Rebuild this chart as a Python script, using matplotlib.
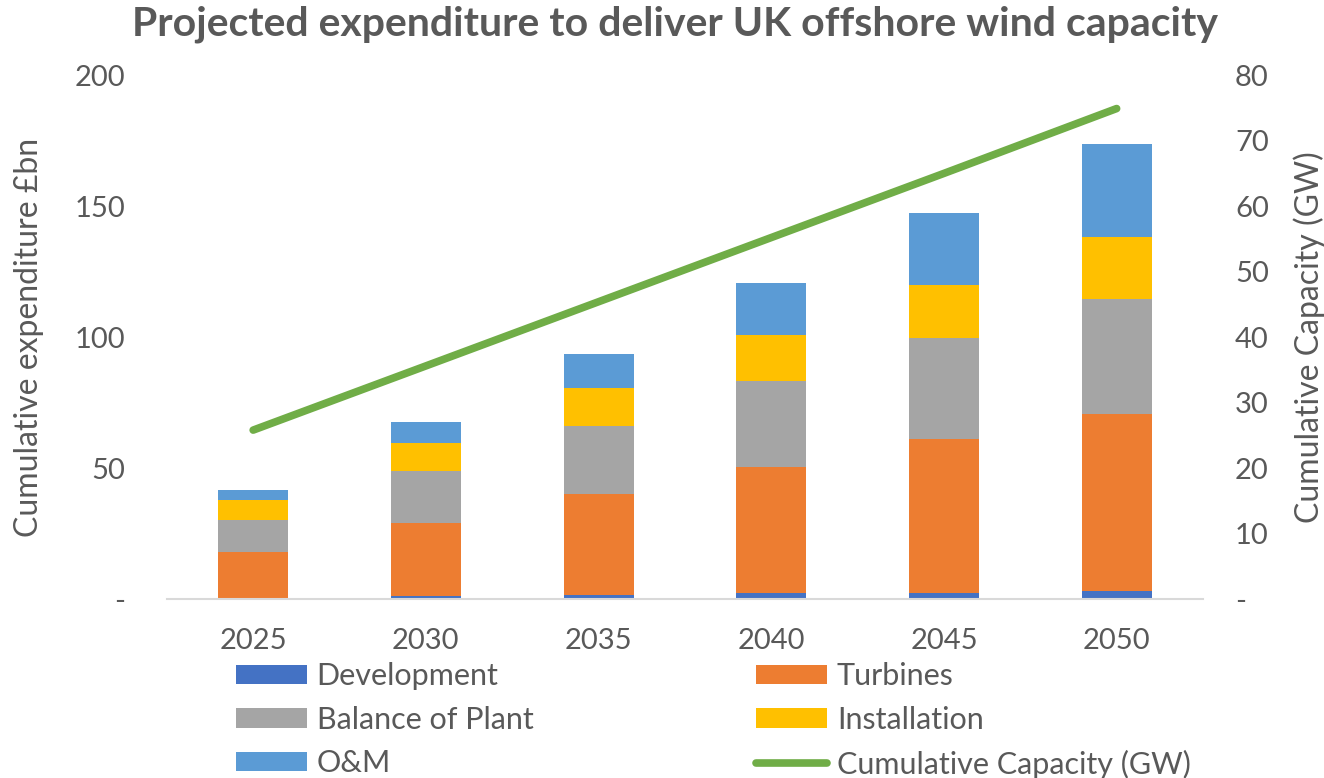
import numpy as np
import matplotlib.pyplot as plt
from matplotlib.patches import Patch
from matplotlib.lines import Line2D

plt.rcParams['font.family'] = ['Lato', 'DejaVu Sans']

years = ['2025', '2030', '2035', '2040', '2045', '2050']

# expenditure by component, £bn (cumulative)
development = [0.5, 1.1, 1.5, 2.2, 2.4, 3.1]
turbines = [17.3, 27.8, 38.6, 48.3, 58.7, 67.4]
balance_of_plant = [12.4, 19.8, 25.9, 32.7, 38.4, 44.0]
installation = [7.6, 11.0, 14.4, 17.6, 20.3, 23.7]
om = [3.8, 8.0, 13.1, 19.7, 27.4, 35.7]

# cumulative capacity, GW
capacity = [25.8, 35.6, 45.4, 55.2, 65.0, 74.9]

series = [
    ('Development', development, '#4472C4'),
    ('Turbines', turbines, '#ED7D31'),
    ('Balance of Plant', balance_of_plant, '#A5A5A5'),
    ('Installation', installation, '#FFC000'),
    ('O&M', om, '#5B9BD5'),
]
line_color = '#70AD47'
text_color = '#595959'

fig = plt.figure(figsize=(13.24, 7.78), dpi=100)
ax = fig.add_axes([0.126, 0.230, 0.7826, 0.6734])
ax2 = ax.twinx()

x = np.arange(len(years))
bottom = np.zeros(len(years))
handles = {}
for name, vals, col in series:
    ax.bar(x, vals, width=0.405, bottom=bottom, color=col, linewidth=0)
    bottom = bottom + np.array(vals)
    handles[name] = Patch(facecolor=col, label=name)

ax2.plot(x, capacity, color=line_color, lw=5.5, solid_capstyle='round')
handles['Cumulative Capacity (GW)'] = Line2D([], [], color=line_color, lw=5.5,
                                             solid_capstyle='round')

ax.set_xlim(-0.5, 5.5)
ax.set_ylim(0, 200)
ax2.set_ylim(0, 80)
ax.set_xticks(x)
ax.set_xticklabels(years)
ax.set_yticks([0, 50, 100, 150, 200])
ax.set_yticklabels(['-', '50', '100', '150', '200'])
ax2.set_yticks(range(0, 81, 10))
ax2.set_yticklabels(['-'] + [str(v) for v in range(10, 81, 10)])

for a in (ax, ax2):
    for s in ('top', 'left', 'right', 'bottom'):
        a.spines[s].set_visible(False)
ax.spines['bottom'].set_visible(True)
ax.spines['bottom'].set_color('#d9d9d9')
ax.spines['bottom'].set_linewidth(1.5)

ax.tick_params(axis='x', length=0, pad=21, labelsize=21, labelcolor=text_color)
ax.tick_params(axis='y', length=0, pad=30, labelsize=21, labelcolor=text_color)
ax2.tick_params(axis='y', length=0, pad=23, labelsize=21, labelcolor=text_color)

ax.set_ylabel('Cumulative expenditure £bn', fontsize=23, color=text_color)
ax.yaxis.set_label_coords(-0.119, 0.5)
ax2.set_ylabel('Cumulative Capacity (GW)', fontsize=23, color=text_color,
               rotation=90)
ax2.yaxis.set_label_coords(1.087, 0.5)

fig.text(0.51, 1 - 24 / 778,
         'Projected expenditure to deliver UK offshore wind capacity',
         ha='center', va='center', fontsize=29.5, fontweight='bold',
         color=text_color)

order = ['Development', 'Balance of Plant', 'O&M',
         'Turbines', 'Installation', 'Cumulative Capacity (GW)']
fig.legend([handles[k] for k in order], order, ncol=2, loc='upper left',
           bbox_to_anchor=(221 / 1324, 1 - 647 / 778), frameon=False,
           fontsize=22, labelcolor=text_color, borderpad=0, handlelength=2.3,
           handleheight=0.6, handletextpad=0.33, columnspacing=7.3,
           labelspacing=0.51)

fig.savefig('out.png', dpi=100)
